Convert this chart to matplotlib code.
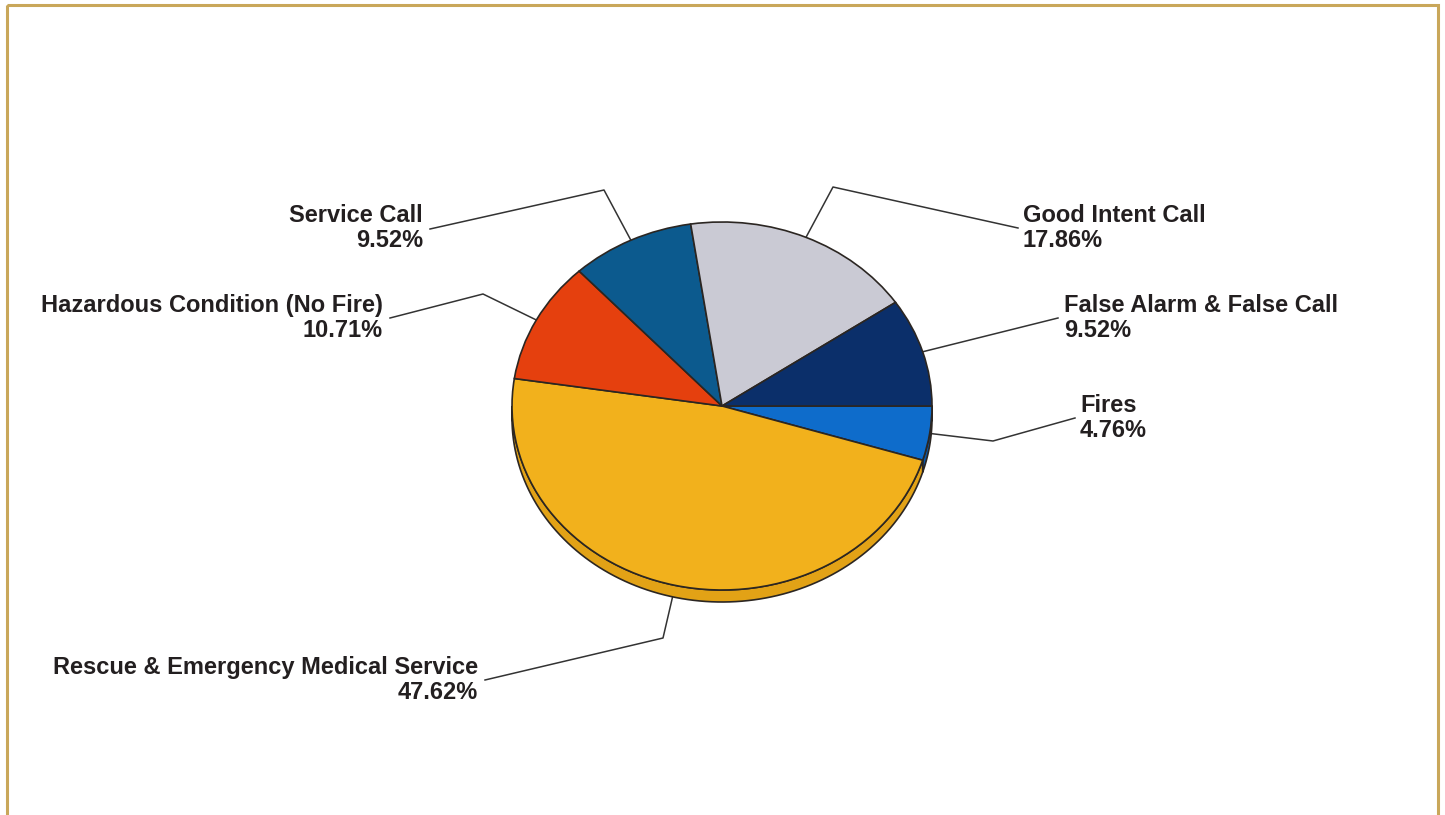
import numpy as np
import matplotlib.pyplot as plt
from matplotlib.patches import Polygon, Rectangle

# data, clockwise from 3 o'clock
categories = ["Fires", "Rescue & Emergency Medical Service", "Hazardous Condition (No Fire)",
              "Service Call", "Good Intent Call", "False Alarm & False Call"]
percents = [4.76, 47.62, 10.71, 9.52, 17.86, 9.52]
colors = ["#0E6CCB", "#F2B11C", "#E5400E", "#0C5A8E", "#CACAD4", "#0B2F6A"]
side_colors = ["#0A56A6", "#E2A216", "#C2350B", "#0A4A75", "#A9A9B3", "#082555"]

W, H = 1445, 815
cx, cy, rx, ry, depth = 722, 406, 210, 184, 12

# label placement (pixels): text pos, alignment, elbow points of leader line
label_pos = {
    "Fires": ((1080, 418), "left", [(993, 441), (1075, 418)]),
    "Rescue & Emergency Medical Service": ((478, 680), "right", [(663, 638), (485, 680)]),
    "Hazardous Condition (No Fire)": ((383, 318), "right", [(483, 294), (390, 318)]),
    "Service Call": ((423, 228), "right", [(604, 190), (430, 229)]),
    "Good Intent Call": ((1023, 228), "left", [(833, 187), (1018, 228)]),
    "False Alarm & False Call": ((1064, 318), "left", [(1058, 318)]),
}

fig = plt.figure(figsize=(W / 100, H / 100), dpi=100)
fig.patch.set_facecolor("white")

bg = fig.add_axes([0, 0, 1, 1])
bg.set_xlim(0, W)
bg.set_ylim(H, 0)
bg.axis("off")
bg.add_patch(Rectangle((7, 5), 1431, 820, fill=False, edgecolor="#C9A75A", lw=2.2))

L = 1.25
pax = fig.add_axes([(cx - L * rx) / W, (H - cy - L * ry) / H, 2 * L * rx / W, 2 * L * ry / H])
d = depth / ry

# wedge angles (ccw degrees)
fr = np.cumsum([0] + percents) / sum(percents) * 360
edge = "#2B2622"

# side walls of the front half
for i, p in enumerate(percents):
    t1, t2 = -fr[i + 1], -fr[i]
    t1 = t1 % 360
    t2 = t2 % 360 if t2 % 360 != 0 else 360
    lo, hi = max(t1, 180), min(t2, 360)
    if hi <= lo:
        continue
    t = np.radians(np.linspace(lo, hi, 100))
    top = np.column_stack([np.cos(t), np.sin(t)])
    bot = np.column_stack([np.cos(t[::-1]), np.sin(t[::-1]) - d])
    pax.add_patch(Polygon(np.vstack([top, bot]), closed=True, facecolor=side_colors[i],
                          edgecolor=edge, lw=1.2, zorder=1))

pax.pie(percents, colors=colors, startangle=0, counterclock=False,
        wedgeprops=dict(edgecolor=edge, linewidth=1.2, zorder=2))
pax.set_aspect("auto")
pax.set_xlim(-L, L)
pax.set_ylim(-L, L)
pax.axis("off")

# labels and leader lines
mids = -(fr[:-1] + fr[1:]) / 2
for i, name in enumerate(categories):
    (tx, ty), ha, elbows = label_pos[name]
    a = np.radians(mids[i])
    ax0, ay0 = cx + rx * np.cos(a), cy - ry * np.sin(a)
    xs = [ax0] + [e[0] for e in elbows]
    ys = [ay0] + [e[1] for e in elbows]
    bg.plot(xs, ys, color="#333333", lw=1.1)
    bg.text(tx, ty, f"{name}\n{percents[i]:.2f}%", ha=ha, va="center", multialignment=ha,
            fontsize=17, fontweight="bold", family="Liberation Sans", color="#231F20",
            linespacing=1.12)

fig.savefig("out.png", dpi=100)
